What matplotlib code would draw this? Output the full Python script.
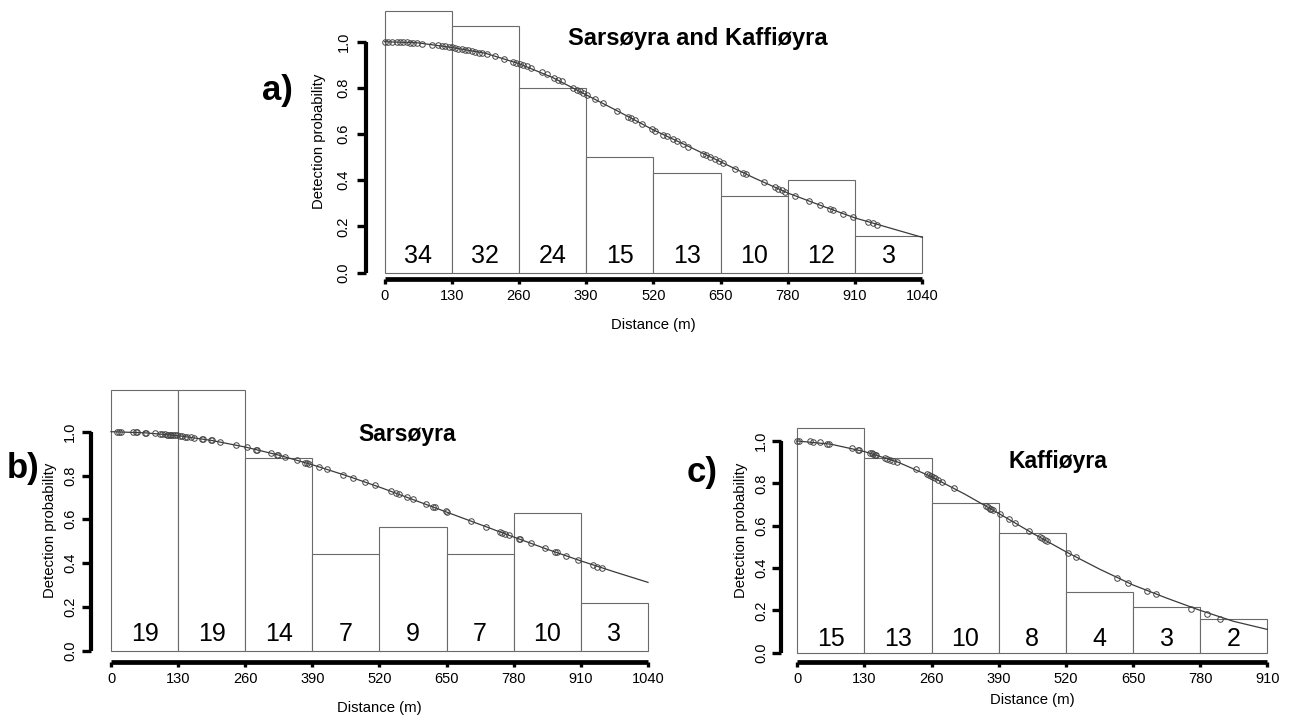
import matplotlib
matplotlib.use("Agg")
import matplotlib.pyplot as plt

plt.rcParams['font.family'] = ['Liberation Sans', 'DejaVu Sans']

# ---------------- data ----------------
edges_a = [0, 130, 260, 390, 520, 650, 780, 910, 1040]
counts_a = [34, 32, 24, 15, 13, 10, 12, 3]
heights_a = [1.133, 1.068, 0.80, 0.50, 0.433, 0.333, 0.40, 0.157]
curve_x_a = [0, 65, 130, 195, 260, 325, 390, 455, 520, 585, 650, 715, 780, 845, 910, 975, 1040]
curve_y_a = [1.0, 0.995, 0.975, 0.95, 0.905, 0.845, 0.77, 0.695, 0.618, 0.55, 0.48, 0.41, 0.345, 0.29, 0.237, 0.195, 0.153]
pts_x_a = [1, 7, 14, 24, 30, 36, 43, 49, 56, 62, 72, 91, 104, 111, 117, 124, 130, 136, 143, 149,
           156, 162, 169, 175, 182, 188, 198, 214, 231, 249, 255, 262, 268, 275, 284, 304, 314, 327,
           336, 343, 364, 372, 378, 384, 391, 407, 422, 450, 471, 476, 484, 497, 517, 523, 539, 546,
           558, 565, 578, 587, 616, 622, 629, 639, 646, 654, 678, 694, 700, 733, 755, 761, 768, 774,
           794, 820, 842, 862, 868, 887, 906, 935, 944, 952]
pts_y_a = [1.0, 1.0, 1.0, 0.999, 0.998, 0.998, 0.997, 0.996, 0.995, 0.994, 0.992, 0.987, 0.984, 0.982,
           0.980, 0.978, 0.975, 0.973, 0.970, 0.967, 0.964, 0.962, 0.959, 0.956, 0.953, 0.950, 0.945,
           0.936, 0.926, 0.913, 0.909, 0.904, 0.899, 0.894, 0.887, 0.868, 0.860, 0.845, 0.836, 0.828,
           0.80, 0.79, 0.785, 0.778, 0.769, 0.75, 0.735, 0.70, 0.676, 0.67, 0.66, 0.645, 0.622, 0.615,
           0.597, 0.59, 0.577, 0.57, 0.555, 0.545, 0.515, 0.51, 0.502, 0.492, 0.485, 0.476, 0.45,
           0.432, 0.426, 0.393, 0.37, 0.364, 0.357, 0.351, 0.333, 0.31, 0.292, 0.276, 0.271, 0.256,
           0.24, 0.219, 0.213, 0.208]

edges_b = [0, 130, 260, 390, 520, 650, 780, 910, 1040]
counts_b = [19, 19, 14, 7, 9, 7, 10, 3]
heights_b = [1.19, 1.19, 0.878, 0.441, 0.565, 0.441, 0.627, 0.219]
curve_x_b = [0, 65, 130, 195, 260, 325, 390, 455, 520, 585, 650, 715, 780, 845, 910, 975, 1040]
curve_y_b = [1.0, 0.995, 0.982, 0.96, 0.93, 0.893, 0.849, 0.80, 0.747, 0.69, 0.633, 0.576, 0.519, 0.463, 0.41, 0.36, 0.312]
pts_x_b = [11, 15, 19, 43, 48, 50, 66, 67, 85, 95, 99, 105, 108, 111, 114, 117, 121, 124, 127, 134,
           138, 143, 148, 155, 161, 176, 179, 194, 195, 211, 243, 263, 281, 282, 309, 321, 324, 337,
           361, 376, 380, 383, 402, 418, 450, 469, 492, 511, 542, 551, 558, 574, 584, 611, 624, 627,
           648, 650, 698, 727, 753, 758, 763, 770, 790, 792, 813, 840, 860, 863, 882, 904, 934, 942, 950]
pts_y_b = [1.0, 1.0, 1.0, 0.998, 0.998, 0.997, 0.995, 0.995, 0.992, 0.99, 0.989, 0.988, 0.987, 0.987,
           0.986, 0.985, 0.984, 0.983, 0.983, 0.981, 0.98, 0.978, 0.977, 0.974, 0.972, 0.967, 0.966,
           0.96, 0.96, 0.953, 0.938, 0.928, 0.918, 0.917, 0.902, 0.895, 0.893, 0.885, 0.869, 0.859,
           0.856, 0.854, 0.84, 0.828, 0.804, 0.789, 0.77, 0.755, 0.728, 0.72, 0.714, 0.70, 0.692,
           0.669, 0.657, 0.655, 0.636, 0.634, 0.59, 0.566, 0.543, 0.539, 0.534, 0.528, 0.51, 0.509,
           0.491, 0.468, 0.451, 0.449, 0.433, 0.415, 0.39, 0.384, 0.378]

edges_c = [0, 130, 260, 390, 520, 650, 780, 910]
counts_c = [15, 13, 10, 8, 4, 3, 2]
heights_c = [1.063, 0.921, 0.709, 0.567, 0.285, 0.214, 0.157]
curve_x_c = [0, 65, 130, 195, 260, 325, 390, 455, 520, 585, 650, 715, 780, 845, 910]
curve_y_c = [1.0, 0.985, 0.95, 0.90, 0.831, 0.748, 0.658, 0.565, 0.477, 0.395, 0.32, 0.258, 0.2, 0.148, 0.11]
pts_x_c = [0, 4, 25, 30, 43, 58, 62, 105, 118, 120, 141, 144, 147, 150, 153, 169, 174, 179, 186, 193,
           229, 251, 255, 258, 262, 266, 273, 281, 303, 365, 369, 373, 376, 379, 392, 410, 421, 449,
           470, 474, 479, 483, 525, 539, 619, 641, 677, 694, 763, 793, 819]
pts_y_c = [1.0, 1.0, 0.998, 0.997, 0.993, 0.988, 0.987, 0.966, 0.958, 0.957, 0.943, 0.941, 0.938,
           0.936, 0.934, 0.92, 0.916, 0.912, 0.906, 0.90, 0.866, 0.842, 0.838, 0.834, 0.829, 0.824,
           0.816, 0.806, 0.777, 0.692, 0.687, 0.681, 0.677, 0.673, 0.655, 0.63, 0.614, 0.574, 0.545,
           0.54, 0.533, 0.527, 0.47, 0.452, 0.355, 0.33, 0.292, 0.275, 0.207, 0.183, 0.16]

y_ticks = [0.0, 0.2, 0.4, 0.6, 0.8, 1.0]
y_ticklabels = ["0.0", "0.2", "0.4", "0.6", "0.8", "1.0"]
x_ticks_ab = [0, 130, 260, 390, 520, 650, 780, 910, 1040]
x_ticks_c = [0, 130, 260, 390, 520, 650, 780, 910]

titles = ["Sarsøyra and Kaffiøyra", "Sarsøyra", "Kaffiøyra"]
letters = ["a)", "b)", "c)"]
xlabel = "Distance (m)"
ylabel = "Detection probability"

# ---------------- layout ----------------
W, H = 1290, 720
fig = plt.figure(figsize=(W / 100, H / 100), dpi=100)


def fx(x):
    return x / W


def fy(y):
    return 1 - y / H


def panel(box, edges, counts, heights, cx, cy, px, py, xticks, yspine_px, xspine_px,
          ytick_pad, xtick_pad, count_y):
    left, right, top, bottom = box
    ax = fig.add_axes([fx(left), fy(bottom), (right - left) / W, (bottom - top) / H])
    widths = [edges[i + 1] - edges[i] for i in range(len(counts))]
    bars = ax.bar(edges[:-1], heights, width=widths, align='edge', color='white',
                  edgecolor='#6a6a6a', linewidth=0.8, zorder=1)
    for b in bars:
        b.set_clip_on(False)
    for i, n in enumerate(counts):
        ax.text((edges[i] + edges[i + 1]) / 2, count_y, str(n), ha='center', va='center',
                fontsize=18, color='black', zorder=2)
    ax.plot(cx, cy, color='#3a3a3a', linewidth=0.9, zorder=3, clip_on=False)
    ax.plot(px, py, linestyle='none', marker='o', markersize=4.0, markerfacecolor='none',
            markeredgecolor='#454545', markeredgewidth=0.7, zorder=4, clip_on=False)
    ax.set_xlim(edges[0], edges[-1])
    ax.set_ylim(0, 1)
    for s in ['top', 'right']:
        ax.spines[s].set_visible(False)
    ax.spines['left'].set_position(('outward', yspine_px * 0.72))
    ax.spines['bottom'].set_position(('outward', xspine_px * 0.72))
    ax.spines['left'].set_bounds(0, 1)
    ax.spines['bottom'].set_bounds(edges[0], edges[-1])
    ax.spines['left'].set_linewidth(3.0)
    ax.spines['bottom'].set_linewidth(3.4)
    ax.spines['left'].set_capstyle('butt')
    ax.spines['bottom'].set_capstyle('butt')
    ax.set_yticks(y_ticks)
    ax.set_yticklabels(y_ticklabels)
    ax.set_xticks(xticks)
    ax.set_xticklabels([str(t) for t in xticks])
    ax.tick_params(axis='y', length=6.5, width=2.4, pad=ytick_pad * 0.72, labelsize=10.5,
                   labelrotation=90, colors='black')
    ax.tick_params(axis='x', length=3.6, width=2.4, pad=xtick_pad * 0.72, labelsize=10.5,
                   colors='black')
    for lab in ax.get_yticklabels():
        lab.set_ha('center')
        lab.set_va('center')
    for lab in ax.get_xticklabels():
        lab.set_va('center')
    ax.patch.set_alpha(0)
    return ax


panel((384.5, 922.3, 41.7, 272.7), edges_a, counts_a, heights_a, curve_x_a, curve_y_a,
      pts_x_a, pts_y_a, x_ticks_ab, 18.5, 6.6, 13.5, 12.0, 0.072)
panel((111, 648, 431.7, 650.7), edges_b, counts_b, heights_b, curve_x_b, curve_y_b,
      pts_x_b, pts_y_b, x_ticks_ab, 20.3, 11.0, 11.5, 12.5, 0.076)
panel((797.3, 1267.3, 441, 652.7), edges_c, counts_c, heights_c, curve_x_c, curve_y_c,
      pts_x_c, pts_y_c, x_ticks_c, 16.3, 9.6, 11.0, 12.0, 0.065)

# titles
fig.text(fx(698), fy(45), titles[0], fontsize=17, fontweight='bold', ha='center', va='baseline')
fig.text(fx(407), fy(441), titles[1], fontsize=16.5, fontweight='bold', ha='center', va='baseline')
fig.text(fx(1058), fy(468), titles[2], fontsize=16.5, fontweight='bold', ha='center', va='baseline')

# panel letters
fig.text(fx(293), fy(100), letters[0], fontsize=25, fontweight='bold', ha='right', va='baseline')
fig.text(fx(40), fy(478), letters[1], fontsize=25, fontweight='bold', ha='right', va='baseline')
fig.text(fx(718), fy(482), letters[2], fontsize=25, fontweight='bold', ha='right', va='baseline')

# axis labels
fig.text(fx(319), fy(141.7), ylabel, rotation=90, fontsize=10.7, ha='center', va='center')
fig.text(fx(50), fy(530), ylabel, rotation=90, fontsize=10.7, ha='center', va='center')
fig.text(fx(741), fy(530.5), ylabel, rotation=90, fontsize=10.7, ha='center', va='center')

fig.text(fx(653), fy(325), xlabel, fontsize=10.7, ha='center', va='center')
fig.text(fx(379.5), fy(708), xlabel, fontsize=10.7, ha='center', va='center')
fig.text(fx(1032), fy(700), xlabel, fontsize=10.7, ha='center', va='center')

fig.savefig("out.png", dpi=100, facecolor='white')
